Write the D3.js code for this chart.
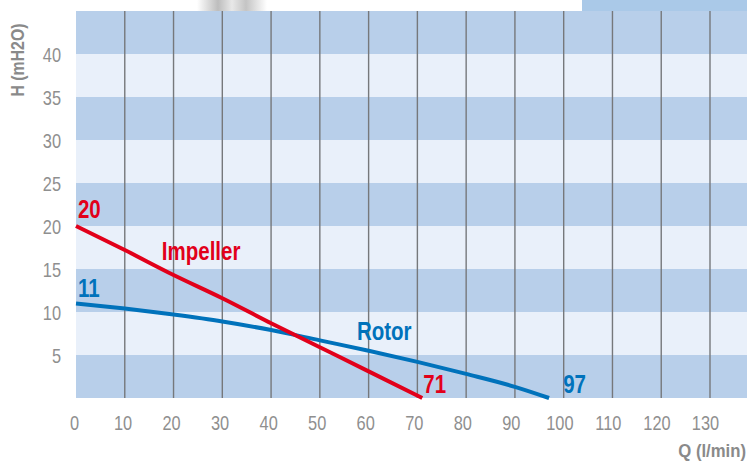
<!DOCTYPE html>
<html>
<head>
<meta charset="utf-8">
<script src="https://cdn.jsdelivr.net/npm/d3@7"></script>
<style>
  html, body { margin: 0; padding: 0; background: #fff; }
  svg { display: block; font-family: "Liberation Sans", Arial, sans-serif; }
</style>
</head>
<body>
<div id="chart"></div>
<script>
	// chart size
	var w = 747;
	var h = 461;

	// data
	var qTicks = [0, 10, 20, 30, 40, 50, 60, 70, 80, 90, 100, 110, 120, 130];
	var hTicks = [5, 10, 15, 20, 25, 30, 35, 40];
	var bandStarts = [0, 5, 10, 15, 20, 25, 30, 35, 40];

	var impellerQ = [0, 10, 20, 30, 40, 50, 60, 71];
	var impellerH = [20, 17.2, 14.3, 11.6, 8.7, 5.9, 3.1, 0];

	var rotorQ = [0, 10, 20, 30, 40, 50, 60, 70, 80, 90, 97];
	var rotorH = [11, 10.4, 9.7, 8.9, 7.9, 6.7, 5.5, 4.2, 2.8, 1.3, 0];

	var labelText = ["20", "Impeller", "71", "11", "Rotor", "97"];
	var labelQ    = [0.4, 17.6, 71.2, 0.4, 57.6, 99.9];
	var labelH    = [20.9, 16, 0.6, 11.7, 6.7, 0.6];
	var labelSeries = ["imp", "imp", "imp", "rot", "rot", "rot"];

	var red = "#e2001a";
	var blue = "#0072bb";

	// the original uses a narrow face, so squeeze the text sideways
	var narrow = 0.82;

	/* ---------------------------------
		Scales
	------------------------------------*/
	var xScale = d3.scaleLinear().domain([0, 130]).range([76, 710]);
	var yScale = d3.scaleLinear().domain([0, 45]).range([398, 11]);
	// tick labels drift a little left of the grid in the original
	var xLabelScale = d3.scaleLinear().domain([0, 130]).range([74, 705]);

	var svg = d3.select("#chart").append("svg")
		.attr("width", w)
		.attr("height", h);

	// bits of the photo above the chart
	var fade = svg.append("defs").append("linearGradient")
		.attr("id", "fade").attr("x1", 0).attr("x2", 1);
	fade.append("stop").attr("offset", 0).attr("stop-color", "#fff");
	fade.append("stop").attr("offset", 0.3).attr("stop-color", "#bdbdbd");
	fade.append("stop").attr("offset", 0.5).attr("stop-color", "#e8e8e8");
	fade.append("stop").attr("offset", 0.7).attr("stop-color", "#c4c4c4");
	fade.append("stop").attr("offset", 1).attr("stop-color", "#fff");
	svg.append("rect").attr("x", 197).attr("y", 0).attr("width", 70).attr("height", 11)
		.attr("fill", "url(#fade)");
	svg.append("rect").attr("x", 582).attr("y", 0).attr("width", w - 582).attr("height", 11)
		.attr("fill", "#aac9e8");

	/* ---------------------------------
		Background bands + grid
	------------------------------------*/
	svg.selectAll(".band")
		.data(bandStarts)
		.enter().append("rect")
		.attr("x", xScale(0))
		.attr("y", function(d) { return yScale(d + 5); })
		.attr("width", w - xScale(0))
		.attr("height", function(d) { return yScale(d) - yScale(d + 5); })
		.attr("fill", function(d, i) { return i % 2 == 0 ? "#b8cfea" : "#e9f0fa"; });

	svg.selectAll(".grid")
		.data(qTicks.slice(1))
		.enter().append("line")
		.attr("x1", function(d) { return xScale(d); })
		.attr("x2", function(d) { return xScale(d); })
		.attr("y1", yScale(45))
		.attr("y2", yScale(0))
		.attr("stroke", "#76787b")
		.attr("stroke-width", 1.4);

	/* ---------------------------------
		Axes (labels only)
	------------------------------------*/
	var xAxis = d3.axisBottom(xLabelScale).tickValues(qTicks).tickSize(0).tickPadding(0);
	var gx = svg.append("g")
		.attr("transform", "translate(0,430)")
		.call(xAxis);
	gx.select(".domain").remove();
	gx.selectAll("text")
		.attr("dy", 0)
		.attr("transform", "scale(" + narrow + ",1)")
		.attr("fill", "#8f8f8f")
		.style("font-size", "20px");

	var yAxis = d3.axisLeft(yScale).tickValues(hTicks).tickSize(0).tickPadding(0);
	var gy = svg.append("g")
		.attr("transform", "translate(61,1.5)")
		.call(yAxis);
	gy.select(".domain").remove();
	gy.selectAll("text")
		.attr("transform", "scale(" + narrow + ",1)")
		.attr("fill", "#8f8f8f")
		.style("font-size", "20px");

	svg.append("text")
		.attr("transform", "translate(24,60) rotate(-90) scale(0.88,1)")
		.attr("text-anchor", "middle")
		.attr("fill", "#8a8a8a")
		.style("font-size", "18px")
		.style("font-weight", "bold")
		.text("H (mH2O)");

	svg.append("text")
		.attr("transform", "translate(746,457) scale(0.88,1)")
		.attr("text-anchor", "end")
		.attr("fill", "#8a8a8a")
		.style("font-size", "19px")
		.style("font-weight", "bold")
		.text("Q (l/min)");

	/* ---------------------------------
		Curves
	------------------------------------*/
	var line = d3.line()
		.x(function(d) { return xScale(d[0]); })
		.y(function(d) { return yScale(d[1]); })
		.curve(d3.curveMonotoneX);

	svg.append("path")
		.datum(d3.zip(rotorQ, rotorH))
		.attr("fill", "none")
		.attr("stroke", blue)
		.attr("stroke-width", 4)
		.attr("d", line);

	svg.append("path")
		.datum(d3.zip(impellerQ, impellerH))
		.attr("fill", "none")
		.attr("stroke", red)
		.attr("stroke-width", 4)
		.attr("d", line);

	svg.selectAll(".lbl")
		.data(labelText)
		.enter().append("text")
		.attr("transform", function(d, i) {
			return "translate(" + xScale(labelQ[i]) + "," + yScale(labelH[i]) + ") scale(" + narrow + ",1)";
		})
		.attr("fill", function(d, i) { return labelSeries[i] == "imp" ? red : blue; })
		.style("font-size", "25px")
		.style("font-weight", "bold")
		.text(function(d) { return d; });
</script>
</body>
</html>
